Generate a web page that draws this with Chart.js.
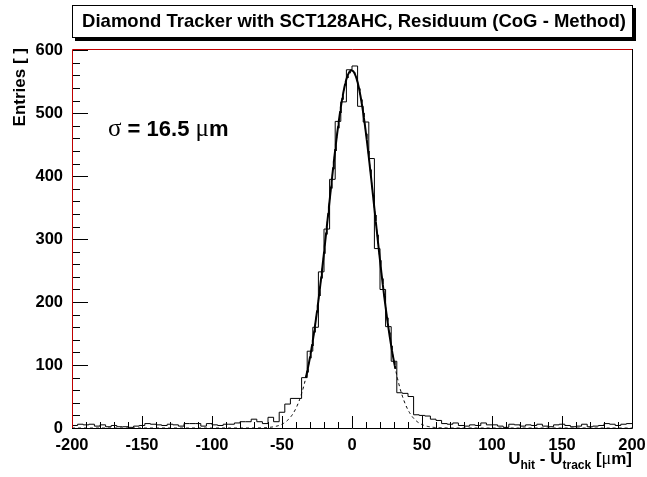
<!DOCTYPE html>
<html>
<head>
<meta charset="utf-8">
<script src="https://cdn.jsdelivr.net/npm/chart.js@4"></script>
<style>
  body { margin: 0; background: #fff; }
  canvas { display: block; }
</style>
</head>
<body>
<canvas id="resChart" width="647" height="477"></canvas>
<script>
// Residual histogram: 100 bins of 4 um from -200 to 200
const binLow = -200;
const binWidth = 4;
const entries = [
    4, 6, 5, 6, 3, 5, 2, 4, 2, 2, 1, 3, 4, 7, 6, 5, 4, 6, 5, 3,
    7, 7, 7, 3, 7, 5, 4, 6, 6, 8, 10, 10, 14, 10, 7, 17, 10, 25, 38, 47,
    47, 80, 122, 160, 248, 316, 395, 487, 518, 569, 575, 511, 486, 428, 285, 220, 161, 106, 56, 55,
    50, 21, 20, 19, 14, 12, 7, 6, 8, 4, 3, 5, 4, 8, 5, 5, 3, 1, 6, 5,
    3, 5, 4, 6, 3, 2, 5, 6, 4, 2, 3, 6, 2, 3, 4, 7, 6, 4, 6, 7
];

// Gaussian fit result
const fitConst = 568;
const fitMean = -0.3;
const fitSigma = 16.5;
const fitRange = [-33, 31];

// axis ticks
const xTicks = [-200, -150, -100, -50, 0, 50, 100, 150, 200];
const yTicks = [0, 100, 200, 300, 400, 500, 600];

const FONT = '"Liberation Sans", Arial, Helvetica, sans-serif';
const SYM = '"Liberation Serif", "Times New Roman", serif';

const histPts = entries.map((v, i) => ({ x: binLow + i * binWidth, y: v }));
histPts.push({ x: binLow + entries.length * binWidth, y: entries[entries.length - 1] });

function gaus(x) {
    const t = (x - fitMean) / fitSigma;
    return fitConst * Math.exp(-0.5 * t * t);
}
const fullCurve = [];
for (let x = -200; x <= 200; x += 0.5) fullCurve.push({ x: x, y: gaus(x) });
const fitCurve = fullCurve.filter(p => p.x >= fitRange[0] && p.x <= fitRange[1]);

// inward tick marks, frame, title box and text labels
const decor = {
    id: 'decor',
    afterDatasetsDraw(chart) {
        const { ctx, chartArea: a, scales } = chart;
        const xs = scales.x, ys = scales.y;
        ctx.save();
        ctx.strokeStyle = '#000';
        ctx.lineWidth = 1;
        ctx.beginPath();
        for (let v = -200; v <= 200; v += 10) {
            const px = Math.round(xs.getPixelForValue(v)) + 0.5;
            const len = v % 50 === 0 ? 12 : 6;
            ctx.moveTo(px, a.bottom);
            ctx.lineTo(px, a.bottom - len);
        }
        for (let v = 0; v <= 600; v += 20) {
            const py = Math.round(ys.getPixelForValue(v)) + 0.5;
            const len = v % 100 === 0 ? 16 : 8;
            ctx.moveTo(a.left, py);
            ctx.lineTo(a.left + len, py);
        }
        ctx.stroke();

        // frame: black right/bottom, red left/top
        ctx.beginPath();
        ctx.moveTo(a.left, a.bottom + 0.5);
        ctx.lineTo(a.right + 0.5, a.bottom + 0.5);
        ctx.lineTo(a.right + 0.5, a.top);
        ctx.stroke();
        ctx.strokeStyle = '#c00000';
        ctx.beginPath();
        ctx.moveTo(a.left + 0.5, a.bottom);
        ctx.lineTo(a.left + 0.5, a.top + 0.5);
        ctx.lineTo(a.right, a.top + 0.5);
        ctx.stroke();

        // title box with shadow
        ctx.fillStyle = '#000';
        ctx.fillRect(75, 38, 561, 3);
        ctx.fillRect(633, 8, 3, 33);
        ctx.fillStyle = '#fff';
        ctx.fillRect(72, 5, 561, 33);
        ctx.strokeStyle = '#000';
        ctx.strokeRect(72.5, 5.5, 560, 32);
        ctx.fillStyle = '#000';
        ctx.font = 'bold 18.5px ' + FONT;
        ctx.textAlign = 'center';
        ctx.textBaseline = 'middle';
        ctx.fillText('Diamond Tracker with SCT128AHC, Residuum (CoG - Method)', 354, 22);

        // y axis title
        ctx.save();
        ctx.translate(25, 48);
        ctx.rotate(-Math.PI / 2);
        ctx.textAlign = 'right';
        ctx.textBaseline = 'alphabetic';
        ctx.font = 'bold 17px ' + FONT;
        ctx.fillText('Entries [ ]', 0, 0);
        ctx.restore();

        // x axis title, right aligned with subscripts
        const parts = [
            ['U', 'bold 17px ' + FONT, 0],
            ['hit', 'bold 12px ' + FONT, 5],
            [' - U', 'bold 17px ' + FONT, 0],
            ['track', 'bold 12px ' + FONT, 5],
            [' [', 'bold 17px ' + FONT, 0],
            ['\u03bc', '18px ' + SYM, 0],
            ['m]', 'bold 17px ' + FONT, 0]
        ];
        drawRun(ctx, parts, a.right, 464, 'right');

        // sigma annotation
        const sig = [
            ['\u03c3', '25px ' + SYM, 0],
            [' = 16.5 ', 'bold 22px ' + FONT, 0],
            ['\u03bc', '25px ' + SYM, 0],
            ['m', 'bold 22px ' + FONT, 0]
        ];
        drawRun(ctx, sig, 108, 136, 'left');
        ctx.restore();
    }
};

function drawRun(ctx, parts, x, y, align) {
    let total = 0;
    parts.forEach(p => { ctx.font = p[1]; total += ctx.measureText(p[0]).width; });
    let cx = align === 'right' ? x - total : x;
    ctx.textAlign = 'left';
    ctx.textBaseline = 'alphabetic';
    parts.forEach(p => {
        ctx.font = p[1];
        ctx.fillText(p[0], cx, y + p[2]);
        cx += ctx.measureText(p[0]).width;
    });
}

const config = {
    type: 'line',
    data: {
        datasets: [{
            label: 'fit',
            data: fitCurve,
            borderColor: '#000',
            borderWidth: 2,
            pointRadius: 0,
            tension: 0
        }, {
            label: 'residuum',
            data: histPts,
            borderColor: '#000',
            borderWidth: 1,
            pointRadius: 0,
            stepped: 'before'
        }, {
            label: 'gaus',
            data: fullCurve,
            borderColor: '#000',
            borderWidth: 1,
            borderDash: [3, 3],
            pointRadius: 0,
            tension: 0
        }]
    },
    options: {
        responsive: false,
        animation: false,
        devicePixelRatio: 1,
        layout: { padding: { left: 0, right: 15, top: 49, bottom: 0 } },
        plugins: {
            legend: { display: false },
            title: { display: false },
            tooltip: { enabled: false }
        },
        scales: {
            x: {
                type: 'linear',
                min: -200,
                max: 200,
                grid: { display: false, drawTicks: false },
                border: { display: false },
                afterBuildTicks: s => { s.ticks = xTicks.map(v => ({ value: v })); },
                afterFit: s => { s.height = 49; s.paddingLeft = 0; s.paddingRight = 0; },
                ticks: {
                    color: '#000',
                    padding: 8,
                    maxRotation: 0,
                    font: { family: FONT, size: 16.5, weight: 'bold' }
                }
            },
            y: {
                min: 0,
                max: 602,
                grid: { display: false, drawTicks: false },
                border: { display: false },
                afterBuildTicks: s => { s.ticks = yTicks.map(v => ({ value: v })); },
                afterFit: s => { s.width = 72; s.paddingTop = 0; s.paddingBottom = 0; },
                ticks: {
                    color: '#000',
                    padding: 9,
                    font: { family: FONT, size: 16.5, weight: 'bold' }
                }
            }
        }
    },
    plugins: [decor]
};

const resChart = new Chart(document.getElementById('resChart'), config);
</script>
</body>
</html>
